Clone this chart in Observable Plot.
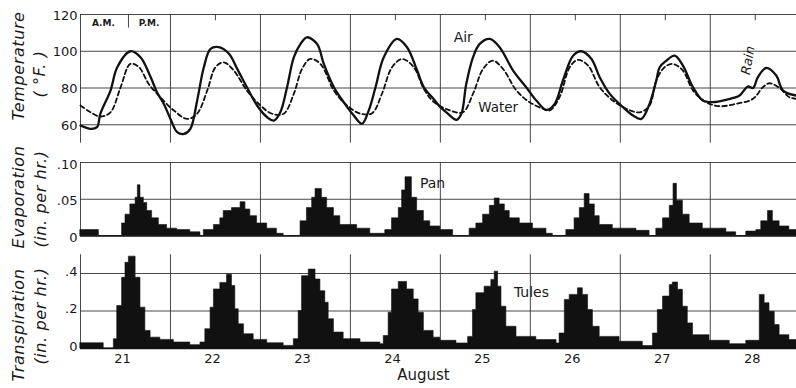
<!DOCTYPE html>
<html><head><meta charset="utf-8">
<script src="https://cdn.jsdelivr.net/npm/d3@7"></script>
<script src="https://cdn.jsdelivr.net/npm/@observablehq/plot@0.6"></script>
<style>
body{margin:0;background:#fff;}
#wrap{position:relative;width:796px;height:388px;overflow:hidden;font-family:"DejaVu Sans",sans-serif;color:#1a1a1a;background:#fff;}
.panel{position:absolute;left:0;}
.ytitle{position:absolute;font-style:italic;font-size:16px;letter-spacing:0.6px;white-space:nowrap;transform:translate(-50%,-50%) rotate(-90deg);color:#1a1a1a;}
</style></head><body><div id="wrap"></div>
<script>
// ---- data (x in hours from midnight starting Aug 21) ----
const dayLabels = ["21","22","23","24","25","26","27","28"];
const dayStarts = [0,24,48,72,96,120,144,168];
const tempTicks = [60,80,100,120];
const evapTicks = [0,0.05,0.10];
const evapTickLabels = ["0",".05",".10"];
const transpTicks = [0,0.2,0.4];
const transpTickLabels = ["0",".2",".4"];

const airHours = [0,2.7,4.4,5.3,8,9.8,13.3,16,18.7,20.4,22.2,24,25.8,27.6,29.3,31.1,32.9,34.7,36.9,39.6,41.8,44.4,47.1,49.8,51.6,53.3,55.1,56.9,58.7,60.4,63.1,64.9,67.6,70.2,72.9,75.1,76.9,78.7,80.9,84.4,87.1,89.8,91.6,94.2,96,97.6,100.3,101.6,102.9,104.7,106.5,109.2,111.8,115.4,118.9,121.6,124.3,126.5,128.7,131.4,133.6,136.3,138.5,141.2,144.7,147.4,149.6,151.8,153.6,154.5,156.3,158.5,160.7,163.4,166,168.7,172.3,175.8,178,179.4,180.7,182.9,185.6,187.4,191];
const airTemp = [59.6,57.8,58.7,66,78.6,91.3,100,96.7,86,77.7,71.4,63.2,56,55,57.8,73,91.3,101.3,102.2,98.6,90.4,80.4,70.5,64.1,62.3,66.8,80.4,96.7,104,107.6,104,93.1,80.4,72.3,65,60.5,67.8,80.4,96.7,106.7,102.2,89.5,80.4,74,69.6,66.8,62.7,66,82.2,96.7,104,106.7,102.2,89.5,80.4,73.2,68.1,71.4,84.1,97.6,100,95.8,85.9,76.8,69.6,65,63.2,71.4,84.1,91.3,94.9,97.6,92.2,80.4,73.2,72.3,73.6,75.9,80.8,80,85.9,90.9,86.8,78.6,75.9];

const waterHours = [0,2.7,5.3,8,10.7,13.3,15.6,18.2,21.3,24.9,28.4,31.1,33.8,36,38.2,40.9,44.4,48,51.1,54.2,56.9,59.1,61.3,64,67.6,71.1,74.7,77.8,80.4,83.1,85.8,88.9,91.6,94.2,98.5,102,104.7,107.4,110,112.7,116.3,119.8,123.4,125.2,127.8,130.5,132.7,135.4,138.5,142,145.6,149.2,151.8,153.6,155.8,158,160.7,163.4,166.9,170.5,174.9,179.4,182,183.8,186.5,189.1,191];
const waterTemp = [70.5,66.8,64.5,66.8,80.4,93.1,91.3,82.2,75,67.8,63.2,66,78.6,91.3,94,89.5,78.6,70.5,66,66,76.8,90.4,95.8,93.1,78.6,70.5,66,66.3,76.8,91.3,95.8,91.3,79.5,72.5,67.8,66.8,76.8,90.4,94.9,90.4,78.6,72.3,68.7,67.8,75,91.3,95.3,92.2,80.4,73.2,68.7,66.8,70.5,84.1,91.3,93.1,89.5,78.6,72.3,70.1,71.4,74.1,80.4,82.6,80,75,74.1];

const panHours = [0,4.9,11.1,12,13.3,14.7,15.3,16,16.9,17.8,19.1,20.9,23.1,25.8,29.3,32,32.9,35.6,37.3,38.2,40.4,42.7,44,45.3,47.1,49.8,52.4,54.2,58.7,60.4,61.8,62.7,64.4,65.8,67.6,69.3,73.8,77.3,81.3,83.1,84.9,85.8,86.7,88.4,89.8,91.6,93.3,96,99.4,103.8,105.6,107.4,109.2,110.5,111.8,113.2,114.5,117.2,120.7,124.3,126,129.6,131.8,133.2,134.5,135.8,137.2,138.5,142,148.3,151.8,153.6,155.4,157.2,158.2,159.1,160.7,162.5,166,172.3,174.9,177.6,180.3,181.6,183.4,184.7,186.5,189.1,191];
const panRate = [0.008,0,0.017,0.029,0.043,0.052,0.069,0.052,0.045,0.034,0.024,0.015,0.010,0.008,0.005,0,0.008,0.015,0.024,0.034,0.038,0.046,0.036,0.027,0.017,0.010,0.003,0,0.020,0.038,0.052,0.064,0.052,0.038,0.027,0.015,0.010,0.003,0.008,0.024,0.038,0.062,0.080,0.052,0.034,0.020,0.013,0.008,0,0.010,0.017,0.029,0.041,0.051,0.043,0.034,0.024,0.017,0.010,0.003,0,0.008,0.024,0.038,0.057,0.043,0.027,0.015,0.010,0.007,0,0.010,0.024,0.041,0.071,0.048,0.029,0.017,0.010,0.005,0,0.006,0.008,0.020,0.034,0.020,0.013,0.008,0.006];

const tuleHours = [0,6.2,8.9,9.8,11.1,12,12.9,14.7,16,17.3,18.7,21.3,24.9,29.3,32,33.3,34.7,35.6,37.3,39.1,40.4,41.3,42.2,43.6,46.2,49.8,54.2,56.9,58.2,59.1,60.9,62.7,64,65.3,66.2,67.6,70.2,74.7,80,80.9,82.2,83.1,84.9,87.1,88.9,90.2,91.6,94.2,96,100.3,103.4,104.7,105.6,107.8,109.6,110.5,111.4,112.3,113.6,116.3,121.6,127,127.8,129.2,130.5,132.7,134,135.4,136.7,138.5,143.8,150,152.7,154,155.4,157.2,158,159.4,160.7,162,163.4,167.8,173.2,177.6,181.2,182.5,183.8,185.2,186.5,189.1,191];
const tuleRate = [0.028,0,0.05,0.227,0.377,0.457,0.49,0.377,0.218,0.094,0.058,0.046,0.032,0.018,0.032,0.103,0.218,0.315,0.35,0.394,0.333,0.209,0.129,0.076,0.046,0.028,0.014,0.05,0.2,0.386,0.421,0.368,0.306,0.244,0.156,0.085,0.05,0.032,0.023,0.067,0.191,0.315,0.355,0.315,0.262,0.191,0.094,0.058,0.041,0.027,0.062,0.205,0.295,0.33,0.366,0.41,0.33,0.223,0.116,0.062,0.045,0.027,0.08,0.259,0.286,0.321,0.286,0.205,0.116,0.062,0.036,0.013,0.08,0.205,0.277,0.339,0.352,0.313,0.223,0.134,0.071,0.041,0.023,0.041,0.286,0.241,0.196,0.125,0.071,0.045,0.036];

// ---- build ----
const air = airHours.map((h,i)=>({h, v: airTemp[i]}));
const water = waterHours.map((h,i)=>({h, v: waterTemp[i]}));
const pan = panHours.map((h,i)=>({h, v: panRate[i]}));
const tule = tuleHours.map((h,i)=>({h, v: tuleRate[i]}));
const xEnd = 191;
const noonHours = dayStarts.map(h => h + 12);
const labelHours = dayStarts.map(h => h + 11.2);
const grid = {stroke:"#333", strokeWidth:0.9};
const ink = "#111";
const baseStyle = {fontFamily:"DejaVu Sans, sans-serif", fontSize:"13px", color:"#1a1a1a", background:"transparent", overflow:"visible"};
const wrap = document.getElementById("wrap");

function place(svg, top){ svg.classList.add("panel"); svg.style.top = top+"px"; wrap.appendChild(svg); }

// Temperature panel
place(Plot.plot({
  width:796, height:150, marginLeft:80, marginRight:0, marginTop:14, marginBottom:14.7,
  x:{domain:[0,xEnd], axis:null}, y:{domain:[54,120], axis:null},
  style: baseStyle,
  marks:[
    Plot.ruleY(tempTicks, {x1:0, x2:xEnd, ...grid}),
    Plot.ruleX(dayStarts, {y1:50, y2:120, ...grid}),
    Plot.ruleX(noonHours.slice(1), {y1:116.6, y2:120, ...grid}),
    Plot.ruleX([12.8], {y1:112.6, y2:120, ...grid}),
    Plot.line(water, {x:"h", y:"v", stroke:ink, strokeWidth:1.8, strokeDasharray:"4.5,3", curve:"catmull-rom"}),
    Plot.line(air, {x:"h", y:"v", stroke:ink, strokeWidth:2.3, curve:"catmull-rom"}),
    Plot.axisY(tempTicks, {anchor:"left", label:null, tickSize:0, tickPadding:3, fontSize:13, dy:1}),
    Plot.text(["A.M."], {x:6.1, y:115.2, fontSize:9, fontWeight:"bold"}),
    Plot.text(["P.M."], {x:18.3, y:115.2, fontSize:9, fontWeight:"bold"}),
    Plot.text(["Air"], {x:102.1, y:107.5, fontSize:14}),
    Plot.text(["Water"], {x:111.4, y:69.4, fontSize:13.5}),
    Plot.text(["Rain"], {x:178.1, y:95, fontSize:13, fontStyle:"italic", rotate:-80})
  ]
}), 0);

// Evaporation panel
place(Plot.plot({
  width:796, height:105, marginLeft:80, marginRight:0, marginTop:17, marginBottom:14.5,
  x:{domain:[0,xEnd], axis:null}, y:{domain:[0,0.10], axis:null},
  style: baseStyle,
  marks:[
    Plot.ruleY([0.05,0.10], {x1:0, x2:xEnd, ...grid}),
    Plot.ruleX(dayStarts, {y1:0, y2:0.10, ...grid}),
    Plot.areaY(pan, {x:"h", y1:0, y2:"v", curve:"step-after", fill:ink, stroke:ink, strokeWidth:0.6}),
    Plot.ruleY([0], {x1:0, x2:xEnd, stroke:ink, strokeWidth:1.6}),
    Plot.axisY(evapTicks, {anchor:"left", label:null, tickSize:0, tickPadding:3, fontSize:13, dy:2,
      tickFormat: d => evapTickLabels[evapTicks.indexOf(d)]}),
    Plot.text(["Pan"], {x:93.9, y:0.0714, fontSize:14})
  ]
}), 145);

// Transpiration panel
place(Plot.plot({
  width:796, height:138, marginLeft:80, marginRight:0, marginTop:4.25, marginBottom:40,
  x:{domain:[0,xEnd], axis:null}, y:{domain:[0,0.5], axis:null},
  style: baseStyle,
  marks:[
    Plot.ruleY([0.2,0.4], {x1:0, x2:xEnd, ...grid}),
    Plot.ruleX(dayStarts, {y1:0, y2:0.5, ...grid}),
    Plot.areaY(tule, {x:"h", y1:0, y2:"v", curve:"step-after", fill:ink, stroke:ink, strokeWidth:0.6}),
    Plot.ruleY([0], {x1:0, x2:xEnd, stroke:ink, strokeWidth:1.6}),
    Plot.axisY(transpTicks, {anchor:"left", label:null, tickSize:0, tickPadding:3, fontSize:13, dy:-2,
      tickFormat: d => transpTickLabels[transpTicks.indexOf(d)]}),
    Plot.axisX(labelHours, {anchor:"bottom", label:null, tickSize:0, tickPadding:5, fontSize:13,
      tickFormat: d => dayLabels[labelHours.indexOf(d)]}),
    Plot.text(["August"], {x:91.5, frameAnchor:"bottom", dy:31, fontSize:15}),
    Plot.text(["Tules"], {x:120.3, y:0.299, fontSize:14})
  ]
}), 250);

// rotated axis titles
const titles = [
  ["Temperature", 18, 66],
  ["( °F. )", 39, 74],
  ["Evaporation", 18, 197],
  ["(in. per hr.)", 40, 199],
  ["Transpiration", 18, 325],
  ["(in. per hr.)", 40, 316]
];
for (const [t, x, y] of titles) {
  const d = document.createElement("div");
  d.className = "ytitle"; d.textContent = t;
  d.style.left = x + "px"; d.style.top = y + "px";
  wrap.appendChild(d);
}
</script></body></html>
